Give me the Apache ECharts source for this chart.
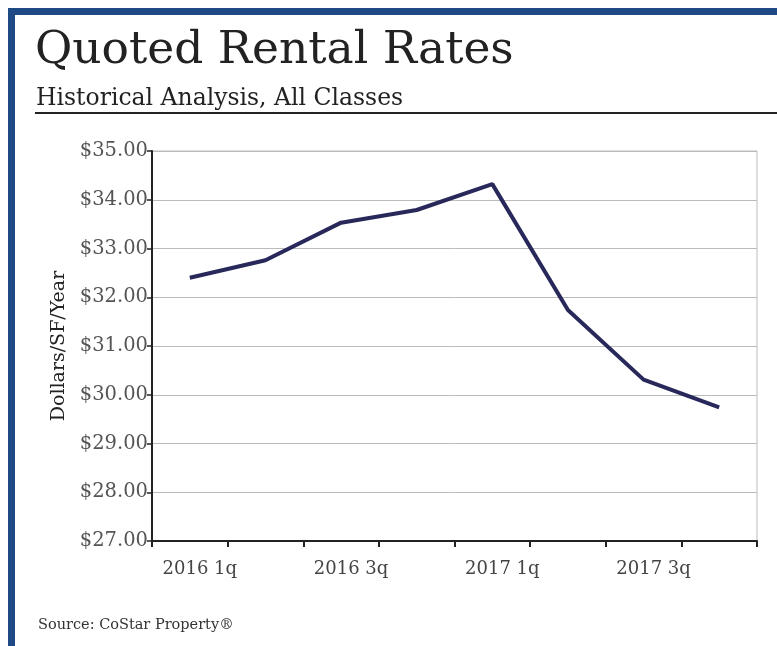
<!DOCTYPE html>
<html>
<head>
<meta charset="utf-8">
<script src="https://cdn.jsdelivr.net/npm/echarts@6/dist/echarts.min.js"></script>
<style>
html,body{margin:0;padding:0;background:#fff;}
#chart{width:777px;height:646px;}
</style>
</head>
<body>
<div id="chart"></div>
<script>
var categories = ['2016 1q','2016 2q','2016 3q','2016 4q','2017 1q','2017 2q','2017 3q','2017 4q'];
var rentalRates = [32.40, 32.76, 33.53, 33.79, 34.32, 31.74, 30.31, 29.74];
var yMin = 27, yMax = 35, yStep = 1;

var serif = '"DejaVu Serif", "Liberation Serif", serif';
var chart = echarts.init(document.getElementById('chart'), null, {renderer:'canvas'});
chart.setOption({
  backgroundColor: '#fff',
  animation: false,
  title: [
    {text: 'Quoted Rental Rates', left: 30, top: 23,
     textStyle: {fontFamily: serif, fontSize: 45.5, fontWeight: 'normal', color: '#222'}},
    {text: 'Historical Analysis, All Classes', left: 31, top: 82,
     textStyle: {fontFamily: serif, fontSize: 23.5, fontWeight: 'normal', color: '#222'}},
    {text: 'Source: CoStar Property®', left: 33, top: 613,
     textStyle: {fontFamily: serif, fontSize: 14.5, fontWeight: 'normal', color: '#333'}}
  ],
  graphic: [
    {type: 'rect', shape: {x: 8, y: 8, width: 777, height: 7}, style: {fill: '#1f4a86'}},
    {type: 'rect', shape: {x: 8, y: 8, width: 7, height: 646}, style: {fill: '#1f4a86'}},
    {type: 'line', shape: {x1: 35, y1: 113, x2: 777, y2: 113}, style: {stroke: '#222', lineWidth: 2}}
  ],
  grid: {left: 152, right: 20, top: 151, bottom: 105, show: true, borderColor: '#bbb', borderWidth: 1},
  xAxis: {
    type: 'category', data: categories, boundaryGap: true,
    axisLine: {lineStyle: {color: '#222', width: 2}},
    axisTick: {show: true, alignWithLabel: false, interval: 0, length: 6, lineStyle: {color: '#222', width: 2}},
    axisLabel: {interval: 1, margin: 19, padding: [0, 0, 0, 20], fontFamily: serif, fontSize: 18, color: '#444'},
    splitLine: {show: false}
  },
  yAxis: {
    type: 'value', min: yMin, max: yMax, interval: yStep,
    name: 'Dollars/SF/Year', nameLocation: 'middle', nameRotate: 90, nameGap: 82,
    nameTextStyle: {fontFamily: serif, fontSize: 19, color: '#222'},
    axisLine: {show: true, lineStyle: {color: '#222', width: 2}},
    axisTick: {show: true, length: 5, lineStyle: {color: '#222', width: 1.5}},
    axisLabel: {margin: 4, fontFamily: serif, fontSize: 19.5, color: '#555',
      formatter: function (v) { return '$' + v.toFixed(2); }},
    splitLine: {lineStyle: {color: '#bbb', width: 1}}
  },
  series: [{
    type: 'line', data: rentalRates, showSymbol: false, symbol: 'none',
    lineStyle: {color: '#28285a', width: 4}
  }]
});
</script>
</body>
</html>
